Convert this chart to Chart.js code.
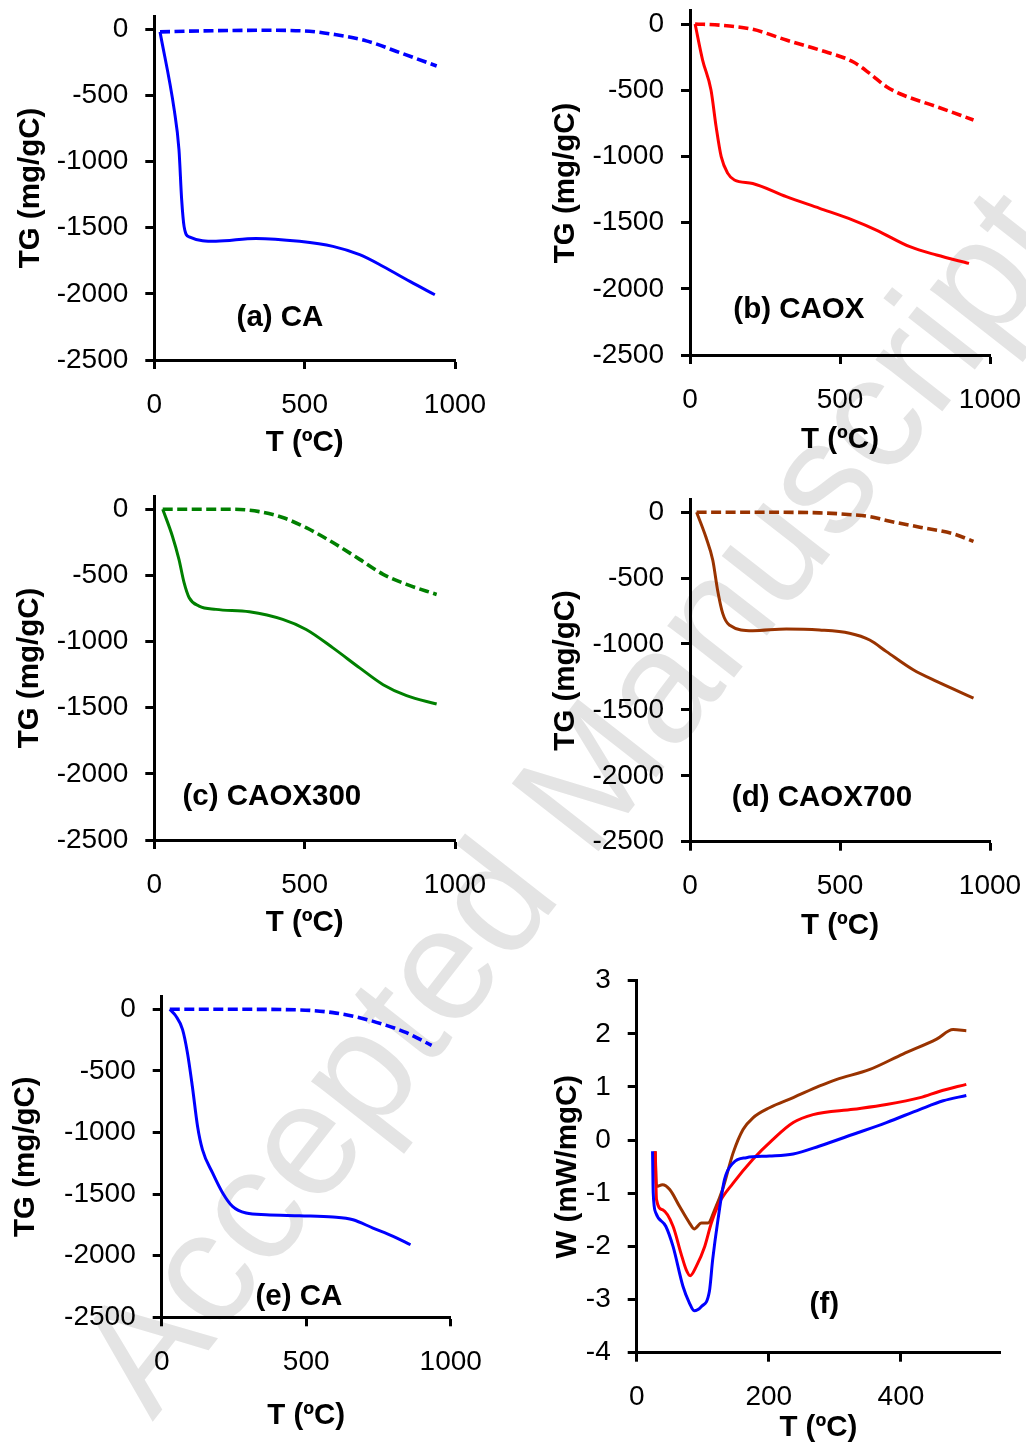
<!DOCTYPE html>
<html><head><meta charset="utf-8">
<script src="https://cdn.jsdelivr.net/npm/chart.js@4.4.0/dist/chart.umd.min.js"></script>
<style>
html,body{margin:0;padding:0;background:#fff;}
body{width:1026px;height:1446px;position:relative;overflow:hidden;font-family:"Liberation Sans",Arial,sans-serif;}
canvas{position:absolute;}
#wm{position:absolute;left:0;top:0;font-family:"Liberation Sans",Arial,sans-serif;font-size:160px;line-height:1;color:#e4e4e4;white-space:nowrap;transform-origin:0 0;transform:translate(46px,1339px) rotate(-52deg);}
</style></head><body>
<div id="wm">Accepted Manuscript</div>
<script>
// ---------- data ----------
const tgXTicks = [0, 500, 1000];
const tgYTicks = [0, -500, -1000, -1500, -2000, -2500];
const dscXTicks = [0, 200, 400];
const dscYTicks = [3, 2, 1, 0, -1, -2, -3, -4];

const panelTexts = ['(a) CA', '(b) CAOX', '(c) CAOX300', '(d) CAOX700', '(e) CA', '(f)'];
const xTitle = 'T (ºC)';
const tgTitle = 'TG (mg/gC)';
const dscTitle = 'W (mW/mgC)';

// (a) CA
const aSolidT  = [19, 66, 82, 91, 99, 116, 205, 338, 483, 594, 683, 761, 850, 933];
const aSolidTG = [-20, -606, -909, -1288, -1490, -1570, -1603, -1581, -1603, -1641, -1704, -1793, -1906, -2007];
const aDashT   = [19, 149, 372, 516, 594, 705, 817, 939];
const aDashTG  = [-20, -13, -8, -15, -38, -88, -177, -278];

// (b) CAOX
const bSolidT  = [17, 42, 70, 87, 104, 126, 148, 209, 321, 432, 543, 621, 733, 822, 930];
const bSolidTG = [0, -272, -498, -775, -1002, -1128, -1178, -1204, -1304, -1392, -1481, -1556, -1682, -1745, -1808];
const bDashT   = [17, 98, 209, 321, 432, 543, 599, 655, 710, 822, 945];
const bDashTG  = [0, -8, -40, -121, -196, -285, -373, -473, -536, -624, -725];

// (c) CAOX300
const cSolidT  = [28, 60, 82, 99, 116, 149, 205, 316, 427, 505, 594, 683, 761, 839, 939];
const cSolidTG = [0, -202, -379, -555, -669, -732, -757, -775, -833, -909, -1048, -1199, -1326, -1409, -1472];
const cDashT   = [28, 149, 260, 349, 427, 505, 594, 683, 761, 839, 939];
const cDashTG  = [0, 0, 0, -18, -63, -139, -252, -379, -492, -568, -644];

// (d) CAOX700
const dSolidT  = [22, 53, 76, 92, 109, 131, 209, 321, 432, 532, 599, 655, 744, 822, 945];
const dSolidTG = [0, -189, -365, -592, -768, -856, -899, -886, -894, -919, -970, -1058, -1196, -1284, -1410];
const dDashT   = [22, 209, 432, 543, 599, 655, 766, 878, 945];
const dDashTG  = [0, 0, -5, -20, -33, -63, -114, -164, -222];

// (e) CA
const eSolidT  = [28, 49, 72, 89, 106, 124, 141, 176, 211, 245, 292, 361, 477, 593, 662, 731, 801, 861];
const eSolidTG = [0, -54, -163, -352, -624, -949, -1139, -1328, -1491, -1600, -1654, -1667, -1676, -1686, -1708, -1776, -1843, -1911];
const eDashT   = [28, 245, 477, 593, 685, 766, 847, 934];
const eDashTG  = [0, 0, -5, -27, -68, -122, -190, -293];

// (f) DSC
const fBlueT  = [24, 25, 29, 44, 55, 70, 80, 87, 98, 110, 115, 123, 133, 146, 166, 201, 237, 277, 328, 378, 429, 464, 499];
const fBlueW  = [-0.21, -0.99, -1.37, -1.62, -2.0, -2.75, -3.07, -3.21, -3.13, -2.85, -2.25, -1.5, -0.74, -0.43, -0.33, -0.30, -0.26, -0.11, 0.11, 0.33, 0.58, 0.74, 0.84];
const fRedT   = [28, 30, 39, 55, 67, 75, 81, 90, 103, 113, 125, 146, 176, 206, 237, 267, 328, 378, 429, 459, 499];
const fRedW   = [-0.21, -1.12, -1.31, -1.62, -2.13, -2.44, -2.55, -2.38, -2.0, -1.56, -1.18, -0.81, -0.36, 0.01, 0.33, 0.48, 0.58, 0.67, 0.80, 0.92, 1.05];
const fBrownT = [28, 30, 39, 50, 65, 80, 87, 98, 108, 118, 130, 146, 161, 176, 201, 237, 277, 302, 353, 403, 454, 479, 499];
const fBrownW = [-0.21, -0.87, -0.84, -0.93, -1.25, -1.56, -1.67, -1.56, -1.56, -1.31, -0.93, -0.24, 0.2, 0.42, 0.61, 0.80, 1.02, 1.14, 1.33, 1.62, 1.90, 2.08, 2.06];

// ---------- styling / layout ----------
const FONT = '"Liberation Sans", Arial, Helvetica, sans-serif';
Chart.defaults.font.family = FONT;
Chart.defaults.color = '#000';
const BLUE = '#0000ff', RED = '#ff0000', GREEN = '#008000', BROWN = '#993300';
const TICK_SIZE = 28, TITLE_SIZE = 29.5;

const labelPlugin = {
  id: 'panelLabel',
  afterDatasetsDraw(chart, args, opts) {
    const {ctx} = chart;
    const x = chart.scales.x, y = chart.scales.y;
    ctx.save();
    ctx.font = 'bold ' + TITLE_SIZE + 'px ' + FONT;
    ctx.fillStyle = '#000';
    ctx.textAlign = 'center';
    ctx.textBaseline = 'middle';
    ctx.fillText(opts.text, x.getPixelForValue(opts.x), y.getPixelForValue(opts.y));
    ctx.restore();
  }
};

function ser(xs, ys, color, dash) { return {xs, ys, color, dash}; }

const panels = [
  {L:154.3, R:455, top:16, B:360, tyx:30.3, txy:443, xMin:0, xMax:1000, yMin:-2500, yMax:100,
   xt:tgXTicks, yt:tgYTicks, yTitle:tgTitle, text:panelTexts[0], lx:418, ly:-2182,
   series:[ser(aDashT,aDashTG,BLUE,true), ser(aSolidT,aSolidTG,BLUE,false)]},
  {L:690, R:990, top:10.8, B:355, tyx:565.7, txy:440, xMin:0, xMax:1000, yMin:-2500, yMax:100,
   xt:tgXTicks, yt:tgYTicks, yTitle:tgTitle, text:panelTexts[1], lx:363, ly:-2160,
   series:[ser(bDashT,bDashTG,RED,true), ser(bSolidT,bSolidTG,RED,false)]},
  {L:154.3, R:455, top:496, B:840, tyx:29.7, txy:923, xMin:0, xMax:1000, yMin:-2500, yMax:100,
   xt:tgXTicks, yt:tgYTicks, yTitle:tgTitle, text:panelTexts[2], lx:391, ly:-2175,
   series:[ser(cDashT,cDashTG,GREEN,true), ser(cSolidT,cSolidTG,GREEN,false)]},
  {L:690, R:990, top:499, B:841.7, tyx:565.8, txy:926.7, xMin:0, xMax:1000, yMin:-2500, yMax:100,
   xt:tgXTicks, yt:tgYTicks, yTitle:tgTitle, text:panelTexts[3], lx:440, ly:-2171,
   series:[ser(dDashT,dDashTG,BROWN,true), ser(dSolidT,dSolidTG,BROWN,false)]},
  {L:161.7, R:450.7, top:996, B:1317.3, tyx:25.6, txy:1416.7, xMin:0, xMax:1000, yMin:-2500, yMax:108,
   xt:tgXTicks, yt:tgYTicks, yTitle:tgTitle, text:panelTexts[4], lx:475, ly:-2335,
   series:[ser(eDashT,eDashTG,BLUE,true), ser(eSolidT,eSolidTG,BLUE,false)]},
  {L:636.7, R:1000, top:980.7, B:1352.7, tyx:568, txy:1428, xMin:0, xMax:550, yMin:-4, yMax:3,
   xt:dscXTicks, yt:dscYTicks, yTitle:dscTitle, text:panelTexts[5], lx:284, ly:-3.1,
   series:[ser(fBlueT,fBlueW,BLUE,false), ser(fRedT,fRedW,RED,false), ser(fBrownT,fBrownW,BROWN,false)]}
];

function axisCommon() {
  return {
    grid: {display:true, drawOnChartArea:false, drawTicks:true, tickLength:9, tickWidth:3, tickColor:'#000'},
    border: {display:true, color:'#000', width:3},
  };
}

function makePanel(p) {
  const half = TITLE_SIZE*1.2/2;
  const left = Math.round(p.tyx - half);
  const top = Math.round(p.top - 40);
  const right = Math.round(p.R + 60);
  const bottom = Math.round(p.txy + half);
  const W = right - left, H = bottom - top;
  const cv = document.createElement('canvas');
  cv.width = W; cv.height = H;
  cv.style.left = left + 'px'; cv.style.top = top + 'px';
  cv.style.width = W + 'px'; cv.style.height = H + 'px';
  document.body.appendChild(cv);
  const yW = p.L - left, xH = bottom - p.B;
  const xa = axisCommon(), ya = axisCommon();
  new Chart(cv, {
    type: 'line',
    data: {datasets: p.series.map(s => ({
      data: s.xs.map((v, i) => ({x: v, y: s.ys[i]})),
      borderColor: s.color, backgroundColor: s.color, borderWidth: s.dash ? 3.6 : 3,
      borderDash: s.dash ? [10, 4.5] : [], pointRadius: 0,
      cubicInterpolationMode: 'monotone', fill: false
    }))},
    options: {
      responsive: false, animation: false, devicePixelRatio: 1,
      layout: {padding: {top: p.top - top, right: right - p.R, left: 0, bottom: 0}},
      plugins: {legend: {display: false}, tooltip: {enabled: false},
        panelLabel: {text: p.text, x: p.lx, y: p.ly}},
      scales: {
        x: Object.assign(xa, {type: 'linear', position: 'bottom', min: p.xMin, max: p.xMax,
          afterBuildTicks: s => { s.ticks = p.xt.map(v => ({value: v})); },
          afterFit: s => { s.height = xH; },
          ticks: {autoSkip: false, maxRotation: 0, padding: 19, font: {size: TICK_SIZE}, color: '#000', callback: v => String(v)},
          title: {display: true, text: xTitle, font: {size: TITLE_SIZE, weight: 'bold'}, color: '#000', padding: 0}}),
        y: Object.assign(ya, {type: 'linear', position: 'left', min: p.yMin, max: p.yMax,
          afterBuildTicks: s => { s.ticks = p.yt.map(v => ({value: v})); },
          afterFit: s => { s.width = yW; },
          ticks: {autoSkip: false, padding: 17, font: {size: TICK_SIZE}, color: '#000', callback: v => String(v)},
          title: {display: true, text: p.yTitle, font: {size: TITLE_SIZE, weight: 'bold'}, color: '#000', padding: 0}})
      }
    },
    plugins: [labelPlugin]
  });
}
panels.forEach(makePanel);
</script>
</body></html>
